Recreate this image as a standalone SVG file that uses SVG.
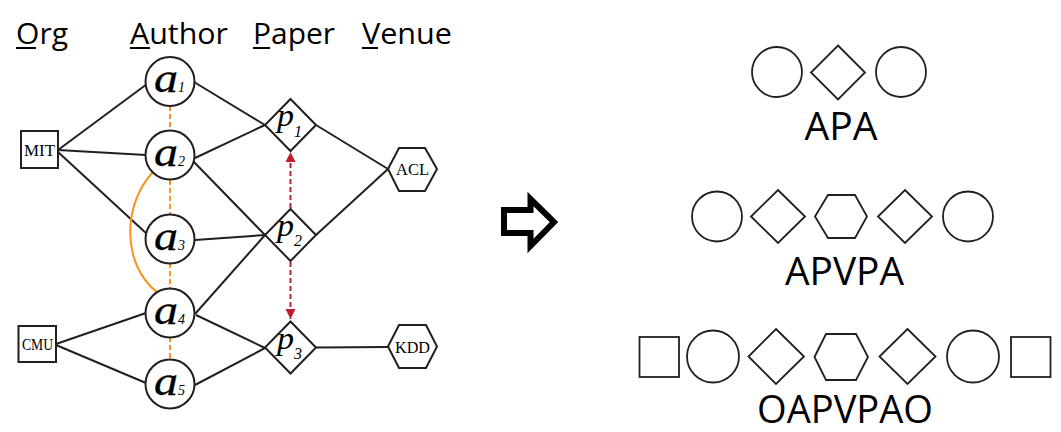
<svg xmlns="http://www.w3.org/2000/svg" width="1061" height="432" viewBox="0 0 1061 432">
<defs>
<style>
.hdr{font-family:"Open Sans","Noto Sans",sans-serif;font-size:29px;fill:#000}
.ul{stroke:#000;stroke-width:2}
.node{fill:#fff;stroke:#231F20;stroke-width:2}
.rnode{fill:#fff;stroke:#231F20;stroke-width:1.8}
.edge{stroke:#231F20;stroke-width:2;fill:none}
.odash{stroke:#F7941D;stroke-width:2;stroke-dasharray:5 3;fill:none}
.oarc{stroke:#F7941D;stroke-width:2;fill:none}
.rdash{stroke:#BE1E2D;stroke-width:2;stroke-dasharray:5 3;fill:none}
.lbl{font-family:"Liberation Serif","Times New Roman",serif;font-style:italic;fill:#000}
.big{font-size:40px;stroke:#000;stroke-width:0.3}
.pb{font-size:32px}
.sub{font-size:14px}
.psub{font-size:16px}
.box{font-family:"Liberation Serif","Times New Roman",serif;font-size:16px;fill:#000;text-anchor:middle}
.seq{font-family:"Open Sans","Noto Sans",sans-serif;font-size:38px;fill:#000;text-anchor:middle}
</style>
<marker id="rh" markerUnits="userSpaceOnUse" markerWidth="10" markerHeight="10" refX="10" refY="5" orient="auto">
<path d="M0,0 L10,5 L0,10 z" fill="#BE1E2D"/>
</marker>
</defs>
<rect width="1061" height="432" fill="#fff"/>

<g id="headers">
<text class="hdr" x="16" y="44" textLength="52" lengthAdjust="spacingAndGlyphs">Org</text>
<text class="hdr" x="130" y="44" textLength="98" lengthAdjust="spacingAndGlyphs">Author</text>
<text class="hdr" x="253" y="44" textLength="82" lengthAdjust="spacingAndGlyphs">Paper</text>
<text class="hdr" x="362" y="44" textLength="90" lengthAdjust="spacingAndGlyphs">Venue</text>
<line class="ul" x1="16" y1="48" x2="36" y2="48"/>
<line class="ul" x1="130" y1="48" x2="150" y2="48"/>
<line class="ul" x1="253" y1="48" x2="270" y2="48"/>
<line class="ul" x1="362" y1="48" x2="378" y2="48"/>
</g>

<g id="connectors">
<line class="edge" x1="58" y1="150" x2="147" y2="84"/>
<line class="edge" x1="58" y1="150" x2="146" y2="155"/>
<line class="edge" x1="58" y1="152" x2="147" y2="234"/>
<line class="edge" x1="56" y1="344" x2="146" y2="313"/>
<line class="edge" x1="56" y1="345" x2="146" y2="383"/>
<line class="edge" x1="194" y1="82" x2="265" y2="125"/>
<line class="edge" x1="195" y1="158" x2="265" y2="125"/>
<line class="edge" x1="193" y1="161" x2="265" y2="235"/>
<line class="edge" x1="195" y1="240" x2="265" y2="235"/>
<line class="edge" x1="195" y1="314" x2="265" y2="235"/>
<line class="edge" x1="196" y1="315" x2="265" y2="348"/>
<line class="edge" x1="195" y1="385" x2="265" y2="348"/>
<line class="edge" x1="316" y1="125" x2="388" y2="169"/>
<line class="edge" x1="316" y1="235" x2="388" y2="169"/>
<line class="edge" x1="316" y1="347.5" x2="388" y2="347"/>
<line class="odash" x1="170" y1="106" x2="170" y2="131"/>
<line class="odash" x1="170" y1="180" x2="170" y2="215"/>
<line class="odash" x1="170" y1="263" x2="170" y2="288"/>
<line class="odash" x1="170" y1="337" x2="170" y2="360"/>
<path class="oarc" d="M153,172 C122,205 122,265 157,292"/>
<line class="rdash" x1="290.5" y1="208" x2="290.5" y2="152" marker-end="url(#rh)"/>
<line class="rdash" x1="290.5" y1="262" x2="290.5" y2="319" marker-end="url(#rh)"/>
</g>

<g id="MIT">
<rect class="node" x="21" y="131" width="37" height="37"/>
<text class="box" x="39.5" y="155.5" font-size="18" textLength="31" lengthAdjust="spacingAndGlyphs">MIT</text>
</g>
<g id="CMU">
<rect class="node" x="18.5" y="326" width="37.5" height="36"/>
<text class="box" x="37.5" y="349.5" font-size="15" textLength="31" lengthAdjust="spacingAndGlyphs">CMU</text>
</g>

<g id="a1">
<circle class="node" cx="170" cy="81.5" r="24.5"/>
<text class="lbl" x="154" y="92"><tspan class="big" textLength="24" lengthAdjust="spacingAndGlyphs">a</tspan><tspan class="sub">1</tspan></text>
</g>
<g id="a2">
<circle class="node" cx="170" cy="155" r="24.5"/>
<text class="lbl" x="154" y="165.5"><tspan class="big" textLength="24" lengthAdjust="spacingAndGlyphs">a</tspan><tspan class="sub">2</tspan></text>
</g>
<g id="a3">
<circle class="node" cx="170" cy="239" r="24.5"/>
<text class="lbl" x="154" y="249.5"><tspan class="big" textLength="24" lengthAdjust="spacingAndGlyphs">a</tspan><tspan class="sub">3</tspan></text>
</g>
<g id="a4">
<circle class="node" cx="170" cy="313" r="24.5"/>
<text class="lbl" x="154" y="323.5"><tspan class="big" textLength="24" lengthAdjust="spacingAndGlyphs">a</tspan><tspan class="sub">4</tspan></text>
</g>
<g id="a5">
<circle class="node" cx="170" cy="384" r="24.5"/>
<text class="lbl" x="154" y="394.5"><tspan class="big" textLength="24" lengthAdjust="spacingAndGlyphs">a</tspan><tspan class="sub">5</tspan></text>
</g>

<g id="p1">
<polygon class="node" points="290.5,99 316,125 290.5,151 265,125"/>
<text class="lbl" x="277" y="126"><tspan class="pb" textLength="17" lengthAdjust="spacingAndGlyphs">p</tspan><tspan class="psub" dy="11">1</tspan></text>
</g>
<g id="p2">
<polygon class="node" points="290.5,209 316,235 290.5,261 265,235"/>
<text class="lbl" x="277" y="236"><tspan class="pb" textLength="17" lengthAdjust="spacingAndGlyphs">p</tspan><tspan class="psub" dy="10">2</tspan></text>
</g>
<g id="p3">
<polygon class="node" points="290.5,321.5 316,347.5 290.5,373.5 265,347.5"/>
<text class="lbl" x="277" y="348.5"><tspan class="pb" textLength="17" lengthAdjust="spacingAndGlyphs">p</tspan><tspan class="psub" dy="10">3</tspan></text>
</g>

<g id="ACL">
<polygon class="node" points="388,169 399,148 425,148 437,169 425,191 399,191"/>
<text class="box" x="412.5" y="175" textLength="33" lengthAdjust="spacingAndGlyphs">ACL</text>
</g>
<g id="KDD">
<polygon class="node" points="388,346.5 399,325 426,325 437,346.5 426,368 399,368"/>
<text class="box" x="412.5" y="352.5" textLength="35" lengthAdjust="spacingAndGlyphs">KDD</text>
</g>

<g id="bigArrow">
<polygon points="504,210 530.5,210 530.5,199 554,222 530.5,246 530.5,233 504,233" fill="#fff" stroke="#000" stroke-width="6" stroke-linejoin="miter"/>
</g>

<g id="APA">
<circle class="rnode" cx="777" cy="72" r="25"/>
<polygon class="rnode" points="838,45.5 865,72.5 838,99.5 811,72.5"/>
<circle class="rnode" cx="901" cy="72" r="25"/>
<text class="seq" x="841" y="140" textLength="73" lengthAdjust="spacingAndGlyphs">APA</text>
</g>

<g id="APVPA">
<circle class="rnode" cx="717" cy="216.5" r="25"/>
<polygon class="rnode" points="778,190 805,216.5 778,243 751,216.5"/>
<polygon class="rnode" points="815,216.5 828,195 855,195 867,216.5 855,238 828,238"/>
<polygon class="rnode" points="905,190 932,216.5 905,243 878,216.5"/>
<circle class="rnode" cx="968" cy="216.5" r="25"/>
<text class="seq" x="844.5" y="285" textLength="119" lengthAdjust="spacingAndGlyphs">APVPA</text>
</g>

<g id="OAPVPAO">
<rect class="rnode" x="639.5" y="337" width="39.5" height="40"/>
<circle class="rnode" cx="713" cy="356.5" r="26"/>
<polygon class="rnode" points="776,329 804,356.5 776,384 748.5,356.5"/>
<polygon class="rnode" points="814.5,357 826,334 856,334 868,357 856,380 826,380"/>
<polygon class="rnode" points="907.5,329 935.5,356.5 907.5,384 879.5,356.5"/>
<circle class="rnode" cx="973" cy="356.5" r="26"/>
<rect class="rnode" x="1011" y="337" width="39.5" height="40"/>
<text class="seq" x="845" y="423" textLength="176" lengthAdjust="spacingAndGlyphs">OAPVPAO</text>
</g>
</svg>
